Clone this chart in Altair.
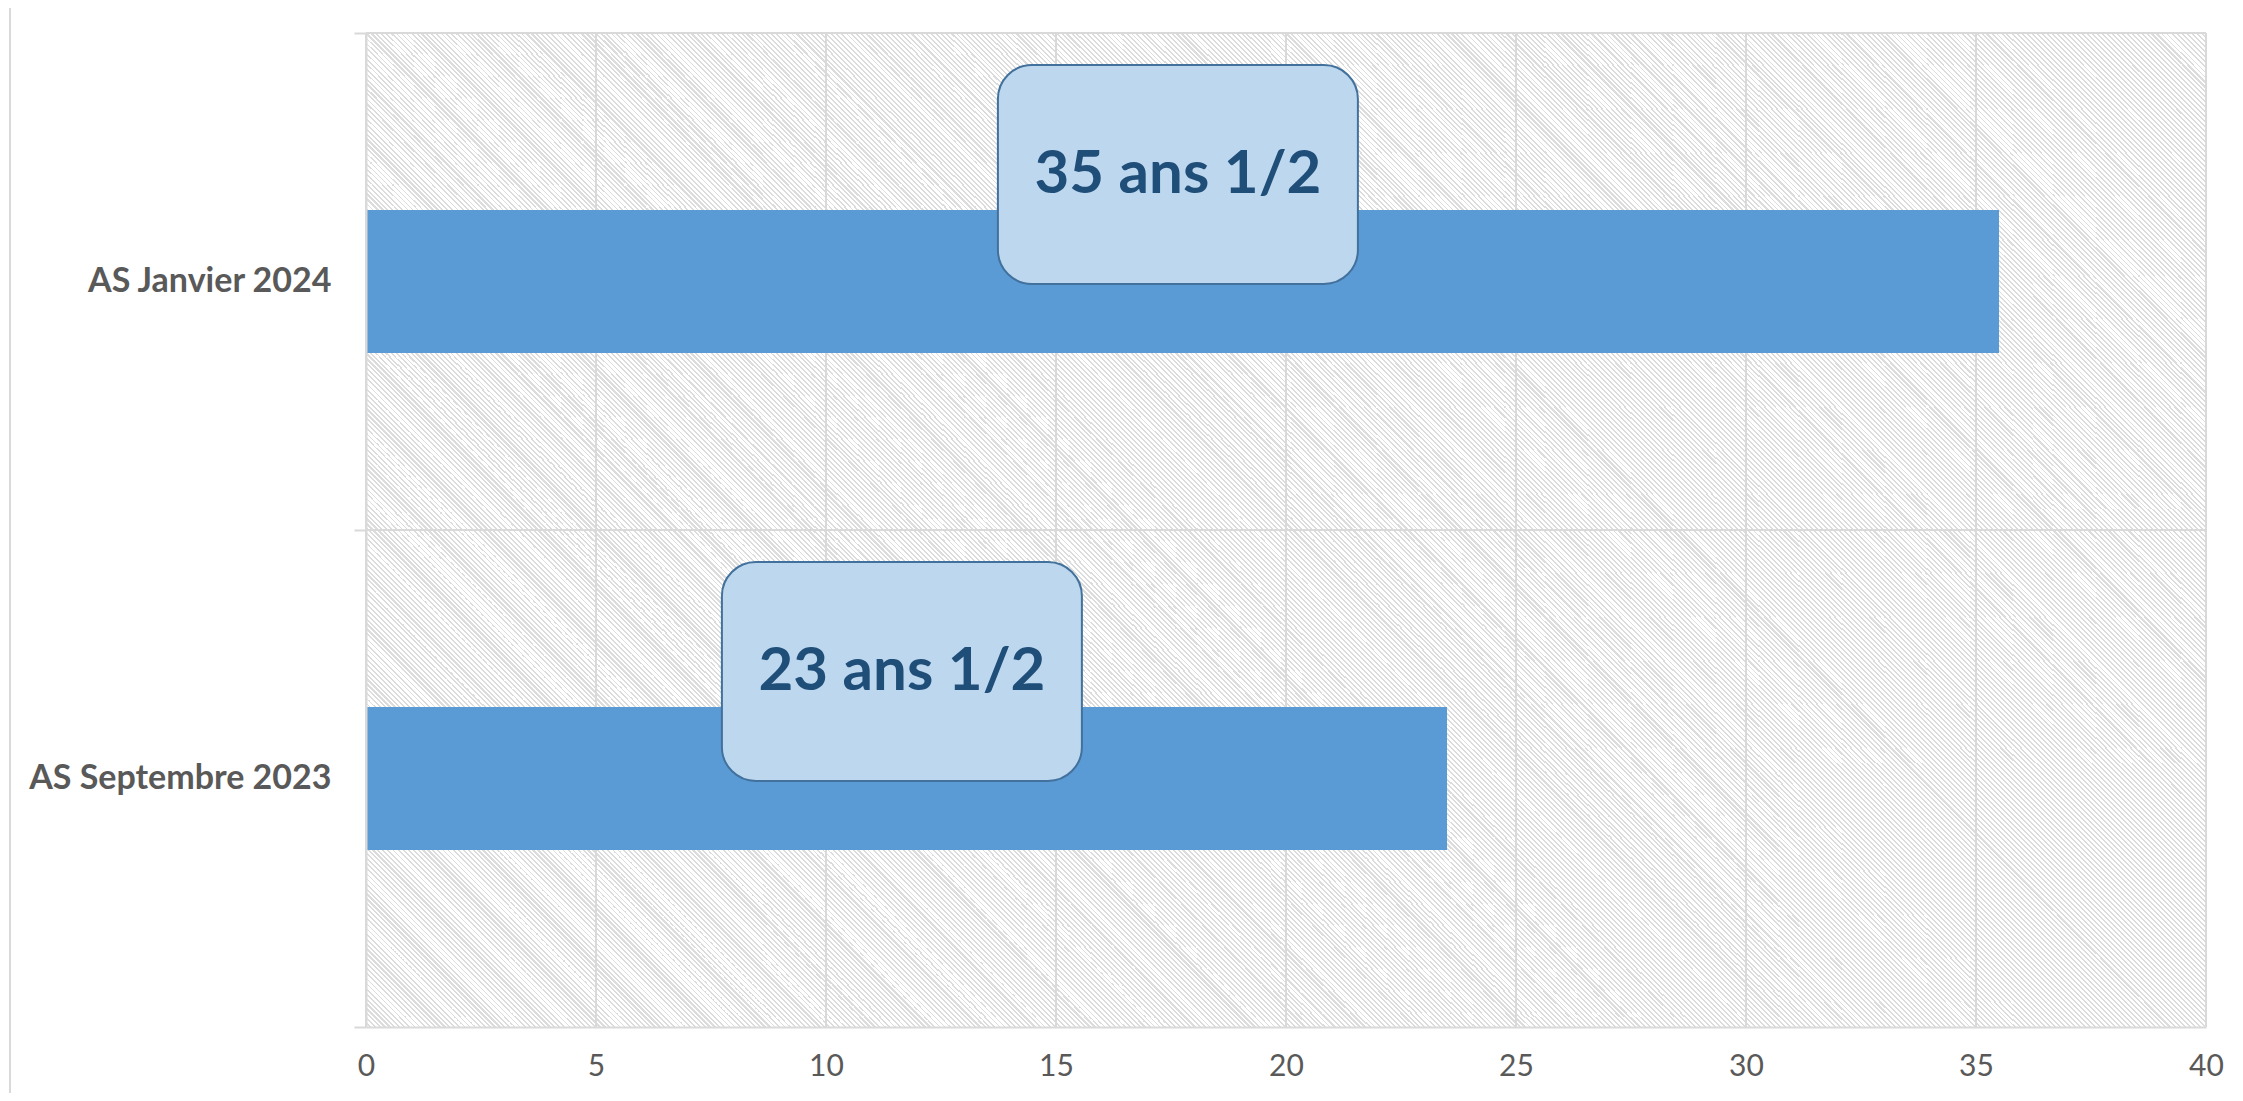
import altair as alt
import pandas as pd

# ---- data ----
categories = ["AS Janvier 2024", "AS Septembre 2023"]
values = [35.5, 23.5]
callouts = ["35 ans 1/2", "23 ans 1/2"]
x_ticks = [0, 5, 10, 15, 20, 25, 30, 35, 40]

W, H = 1840, 994
FONT = "Lato"
GRID = "#d9d9d9"

df = pd.DataFrame({"cat": categories, "val": values, "lab": callouts})
ticks_df = pd.DataFrame({"t": x_ticks})

# ---- hatch style for plot background (diagonal thin grey stripes) ----
k = (W + H) / (W * W + H * H)
span = W + H
period_px = 5
grey_px = 2
stops = []
pos = 0
while pos < span:
    a = pos / span
    b = min(pos + period_px - grey_px, span) / span
    c = min(pos + period_px, span) / span
    stops += [
        {"offset": round(a, 7), "color": "#ffffff"},
        {"offset": round(b, 7), "color": "#ffffff"},
        {"offset": round(b, 7), "color": "#dcdcdc"},
        {"offset": round(c, 7), "color": "#dcdcdc"},
    ]
    pos += period_px
hatch = {"gradient": "linear", "x1": 0, "y1": 1, "x2": k * W,
         "y2": 1 - k * H, "stops": stops}

xscale = alt.Scale(domain=[0, 40], nice=False, zero=True)
yscale = alt.Scale(paddingInner=0, paddingOuter=0)

x_axis = alt.Axis(values=x_ticks, grid=False, ticks=False, labelFont=FONT,
                  labelFontSize=30, labelColor="#595959", labelPadding=24,
                  labelFlush=False, domainColor=GRID, domainWidth=2,
                  title=None, zindex=1)
y_axis = alt.Axis(grid=False, ticks=True, tickBand="extent", tickSize=12,
                  tickColor=GRID, tickWidth=2, domainColor=GRID, domainWidth=2,
                  labelFont=FONT, labelFontSize=34, labelFontWeight="bold",
                  labelColor="#595959", labelPadding=23, labelLimit=0,
                  title=None, zindex=1)

base = alt.Chart(df)

bg = alt.Chart(df).mark_rect(fill=hatch).encode(
    x=alt.value(0), x2=alt.value(W), y=alt.value(0), y2=alt.value(H)
)

vgrid = alt.Chart(ticks_df).mark_rule(color=GRID, strokeWidth=2).encode(
    x=alt.X("t:Q", scale=xscale, axis=x_axis)
)

hgrid = base.mark_rule(color=GRID, strokeWidth=2).encode(
    y=alt.Y("cat:N", sort=categories, scale=yscale, axis=y_axis, bandPosition=0)
)

bars = base.mark_bar(height=143, color="#5B9BD5").encode(
    x=alt.X("val:Q", scale=xscale, axis=x_axis),
    y=alt.Y("cat:N", sort=categories, scale=yscale, axis=y_axis),
)

half_w = 3.913  # half of callout width, in axis units
boxes = base.transform_calculate(
    lo="datum.val / 2 - 0.1 - " + str(half_w), hi="datum.val / 2 - 0.1 + " + str(half_w)
).mark_bar(height=219, yOffset=-107, cornerRadius=34, fill="#BDD7EE",
           stroke="#41719C", strokeWidth=2).encode(
    x=alt.X("lo:Q", scale=xscale, axis=x_axis),
    x2="hi:Q",
    y=alt.Y("cat:N", sort=categories, scale=yscale, axis=y_axis),
)

texts = base.transform_calculate(mid="datum.val / 2 - 0.1").mark_text(
    font=FONT, fontSize=60, fontWeight="bold", color="#1F4E79",
    baseline="middle", align="center", dy=-107
).encode(
    x=alt.X("mid:Q", scale=xscale, axis=x_axis),
    y=alt.Y("cat:N", sort=categories, scale=yscale, axis=y_axis),
    text="lab:N",
)

border = alt.Chart(df).mark_rule(color=GRID, strokeWidth=2).encode(
    x=alt.value(-356), y=alt.value(-25), y2=alt.value(H + 66)
)

chart = alt.layer(bg, vgrid, hgrid, bars, boxes, texts, border).properties(
    width=W, height=H,
    autosize=alt.AutoSizeParams(type="none"),
    padding={"left": 358, "top": 25, "right": 29, "bottom": 66},
    background="white",
).configure_view(strokeWidth=0)

chart.save("out.html", embed_options={"renderer": "svg", "actions": False})
